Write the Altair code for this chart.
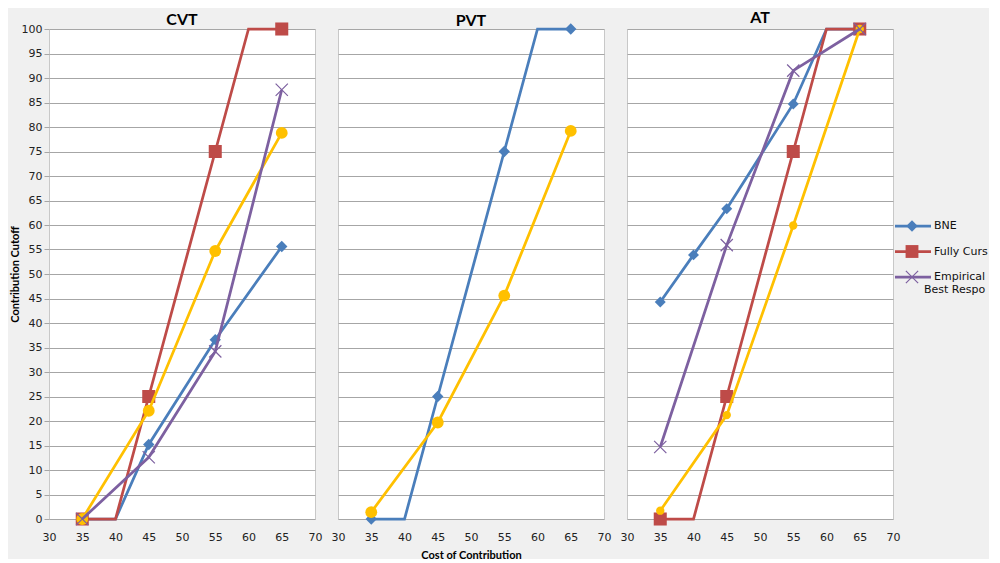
import altair as alt
import pandas as pd

# ---------------- data ----------------
panels = ["CVT", "PVT", "AT"]
series_order = ["BNE", "Fully Cursed", "Observed", "Empirical Best Response"]

# CVT
cvt_bne_x = [35, 40, 45, 55, 65]
cvt_bne_y = [0, 0, 15.2, 36.6, 55.6]
cvt_bne_m = [1, 0, 1, 1, 1]
cvt_fc_x = [35, 40, 45, 55, 60, 65]
cvt_fc_y = [0, 0, 25, 75, 100, 100]
cvt_fc_m = [1, 0, 1, 1, 0, 1]
cvt_obs_x = [35, 45, 55, 65]
cvt_obs_y = [0, 22.1, 54.7, 78.8]
cvt_obs_m = [1, 1, 1, 1]
cvt_ebr_x = [35, 45, 55, 65]
cvt_ebr_y = [0, 12.6, 34.2, 87.6]
cvt_ebr_m = [1, 1, 1, 1]

# PVT
pvt_bne_x = [35, 40, 45, 55, 60, 65]
pvt_bne_y = [0, 0, 25, 75, 100, 100]
pvt_bne_m = [1, 0, 1, 1, 0, 1]
pvt_obs_x = [35, 45, 55, 65]
pvt_obs_y = [1.4, 19.7, 45.6, 79.2]
pvt_obs_m = [1, 1, 1, 1]

# AT
at_bne_x = [35, 40, 45, 55, 60, 65]
at_bne_y = [44.3, 53.9, 63.3, 84.7, 100, 100]
at_bne_m = [1, 1, 1, 1, 0, 1]
at_fc_x = [35, 40, 45, 55, 60, 65]
at_fc_y = [0, 0, 25, 75, 100, 100]
at_fc_m = [1, 0, 1, 1, 0, 1]
at_obs_x = [35, 45, 55, 65]
at_obs_y = [1.7, 21.2, 59.9, 100]
at_obs_m = [1, 1, 1, 1]
at_ebr_x = [35, 45, 55, 65]
at_ebr_y = [14.7, 55.9, 91.5, 100]
at_ebr_m = [1, 1, 1, 1]

x_ticks = [30, 35, 40, 45, 50, 55, 60, 65, 70]
y_ticks = [0, 5, 10, 15, 20, 25, 30, 35, 40, 45, 50, 55, 60, 65, 70, 75, 80, 85, 90, 95, 100]

legend_names = ["BNE", "Fully Cursed", "Empirical Best Response"]
legend_line1 = ["BNE", "Fully Cursed", "Empirical"]
legend_line2 = ["", "", "Best Response"]

# ---------------- table ----------------
series_data = {
    "CVT": {"BNE": (cvt_bne_x, cvt_bne_y, cvt_bne_m),
            "Fully Cursed": (cvt_fc_x, cvt_fc_y, cvt_fc_m),
            "Observed": (cvt_obs_x, cvt_obs_y, cvt_obs_m),
            "Empirical Best Response": (cvt_ebr_x, cvt_ebr_y, cvt_ebr_m)},
    "PVT": {"BNE": (pvt_bne_x, pvt_bne_y, pvt_bne_m),
            "Observed": (pvt_obs_x, pvt_obs_y, pvt_obs_m)},
    "AT": {"BNE": (at_bne_x, at_bne_y, at_bne_m),
           "Fully Cursed": (at_fc_x, at_fc_y, at_fc_m),
           "Observed": (at_obs_x, at_obs_y, at_obs_m),
           "Empirical Best Response": (at_ebr_x, at_ebr_y, at_ebr_m)},
}

rows = []
for p, sd in series_data.items():
    for s, (xs, ys, ms) in sd.items():
        for i, (xv, yv, mv) in enumerate(zip(xs, ys, ms)):
            rows.append({"panel": p, "series": s, "cost": xv, "cutoff": yv, "marker": mv, "idx": i})
df = pd.DataFrame(rows)

# ---------------- style ----------------
colors = {"BNE": "#4A7EBB", "Fully Cursed": "#BE4B48",
          "Observed": "#FFC000", "Empirical Best Response": "#7D60A0"}
shapes = {"BNE": "diamond", "Fully Cursed": "square", "Observed": "circle",
          "Empirical Best Response": "M-1,-1L1,1M-1,1L1,-1"}
LABEL_FONT = "DejaVu Sans"
TITLE_FONT = "Lato"
GRID = "#a6a6a6"
LW = 2.75
W, H = 266, 490
ZWS = "\u200b"

sizes_default = {"BNE": 130, "Fully Cursed": 170, "Observed": 140, "Empirical Best Response": 150}
sizes_at = {"BNE": 120, "Fully Cursed": 170, "Observed": 70, "Empirical Best Response": 150}


def legend_layers():
    leg_df = pd.DataFrame({"series": legend_names, "line1": legend_line1, "line2": legend_line2})
    leg_y = alt.Y("series:N", scale=alt.Scale(type="point", domain=legend_names, range=[197, 248],
                                              padding=0),
                  axis=None)
    leg_color = alt.Color("series:N", scale=alt.Scale(domain=legend_names,
                                                      range=[colors[n] for n in legend_names]),
                          legend=None)
    lb = alt.Chart(leg_df).encode(y=leg_y)
    x0 = W + 2
    rule = lb.mark_rule(strokeWidth=LW).encode(x=alt.value(x0), x2=alt.value(x0 + 36), color=leg_color)
    filled = lb.transform_filter(alt.datum.series != "Empirical Best Response").mark_point(
        filled=True, opacity=1).encode(
        x=alt.value(x0 + 17), color=leg_color,
        shape=alt.Shape("series:N", scale=alt.Scale(domain=legend_names,
                                                    range=[shapes[n] for n in legend_names]),
                        legend=None),
        size=alt.Size("series:N", scale=alt.Scale(domain=legend_names, range=[130, 200, 150]),
                      legend=None))
    cross = lb.transform_filter(alt.datum.series == "Empirical Best Response").mark_point(
        filled=False, opacity=1, strokeWidth=1.2, shape=shapes["Empirical Best Response"],
        size=150).encode(x=alt.value(x0 + 17), color=leg_color)
    t1 = lb.mark_text(align="left", baseline="middle", font=LABEL_FONT, fontSize=11,
                      color="#111", limit=56, ellipsis=ZWS).encode(x=alt.value(x0 + 39), text="line1:N")
    t2 = lb.mark_text(align="left", baseline="middle", font=LABEL_FONT, fontSize=11,
                      color="#111", limit=66, ellipsis=ZWS, dy=13).encode(x=alt.value(x0 + 29),
                                                                          text="line2:N")
    return [rule, filled, cross, t1, t2]


def make_panel(pname, first, middle, sizes, with_legend=False):
    d = df[df["panel"] == pname]
    xax = dict(values=x_ticks, grid=False, ticks=False, tickSize=0, domain=False,
               labelPadding=12, labelFont=LABEL_FONT, labelFontSize=11, labelColor="#222",
               labelFlush=False)
    if middle:
        xax.update(title="Cost of Contribution", titleFont=TITLE_FONT, titleFontSize=11,
                   titleFontWeight="bold", titlePadding=7, titleColor="#000")
    else:
        xax.update(title=None)
    yax = dict(values=y_ticks, grid=True, gridColor=GRID, gridWidth=1, domain=False)
    if first:
        yax.update(labels=True, ticks=True, tickSize=5, tickColor=GRID, labelPadding=2,
                   labelFont=LABEL_FONT, labelFontSize=11, labelColor="#222",
                   title="Contribution Cutoff", titleFont=TITLE_FONT, titleFontSize=11,
                   titleFontWeight="bold", titlePadding=1, titleColor="#000")
    else:
        yax.update(labels=False, ticks=False, title=None)
    x = alt.X("cost:Q", scale=alt.Scale(domain=[30, 70], nice=False), axis=alt.Axis(**xax))
    y = alt.Y("cutoff:Q", scale=alt.Scale(domain=[0, 100], nice=False), axis=alt.Axis(**yax))
    base = alt.Chart(d)
    layers = []
    for s in series_order:
        if s not in series_data[pname]:
            continue
        sub = base.transform_filter(alt.datum.series == s)
        layers.append(sub.mark_line(color=colors[s], strokeWidth=LW).encode(
            x=x, y=y, order="idx:Q"))
        pts = sub.transform_filter(alt.datum.marker == 1)
        if s == "Empirical Best Response":
            layers.append(pts.mark_point(shape=shapes[s], filled=False, color=colors[s],
                                         strokeWidth=1.2, size=sizes[s], opacity=1).encode(x=x, y=y))
        else:
            layers.append(pts.mark_point(shape=shapes[s], filled=True, color=colors[s],
                                         size=sizes[s], opacity=1).encode(x=x, y=y))
    data_layer = alt.layer(*layers)
    if with_legend:
        out = alt.layer(data_layer, *legend_layers()).resolve_scale(y="independent")
    else:
        out = data_layer
    return out.properties(
        width=W, height=H,
        title=alt.TitleParams(pname, font=TITLE_FONT, fontSize=16, fontWeight="bold",
                              color="#000", offset=-6, frame="group"),
        view=alt.ViewBackground(fill="white", stroke="#c8c8c8", strokeWidth=1),
    )


p1 = make_panel("CVT", True, False, sizes_default)
p2 = make_panel("PVT", False, True, sizes_default)
p3 = make_panel("AT", False, False, sizes_at, with_legend=True)

chart = alt.hconcat(p1, p2, p3, spacing=7).configure(
    background="#f0f0f0",
    padding={"left": 0, "top": 1, "right": 0, "bottom": -2},
).configure_view(stroke="transparent")

chart.save("out.html", embed_options={"renderer": "svg", "actions": False})
